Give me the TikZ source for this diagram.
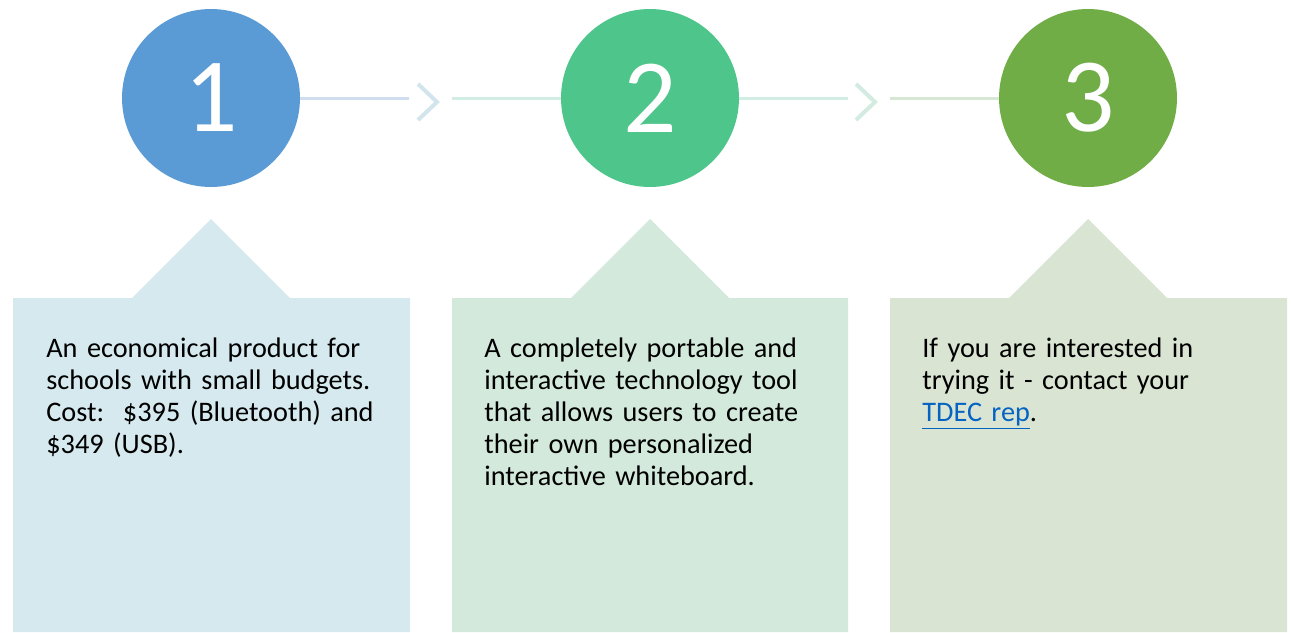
\documentclass[tikz,border=0pt]{standalone}
\usepackage{fontspec}
\setmainfont{Carlito}
\usetikzlibrary{positioning}

\definecolor{oneblue}{HTML}{5B9BD5}
\definecolor{twogreen}{HTML}{4EC58B}
\definecolor{threegreen}{HTML}{70AD47}
\definecolor{panelone}{HTML}{D5E9EE}
\definecolor{paneltwo}{HTML}{D3E9DC}
\definecolor{panelthree}{HTML}{DAE4D2}
\definecolor{linkone}{HTML}{D0DDEF}
\definecolor{chevone}{HTML}{D2E5EC}
\definecolor{linktwo}{HTML}{D1EDE4}
\definecolor{chevtwo}{HTML}{D3EBE0}
\definecolor{linkthree}{HTML}{D6E7D4}
\definecolor{urlblue}{HTML}{0563C1}

\begin{document}
\begin{tikzpicture}[x=0.02cm, y=-0.02cm,
    num/.style={circle, minimum size=3.56cm, inner sep=0pt, text=white, font=\fontsize{60}{62}\selectfont},
    desc/.style={anchor=north west, align=left, inner sep=0pt, text width=7.6cm, font=\fontsize{16.1}{18.1}\selectfont},
    link/.style={line width=0.06cm},
    chev/.style={line width=0.08cm}]
        \useasboundingbox (0,0) rectangle (1291,632);

        % Panels
        \fill[panelone] (13,632) -- (13,298) -- (132,298) -- (211,219) -- (290,298) -- (410,298) -- (410,632) -- cycle;
        \fill[paneltwo] (452,632) -- (452,298) -- (571,298) -- (650,219) -- (729,298) -- (848,298) -- (848,632) -- cycle;
        \fill[panelthree] (890,632) -- (890,298) -- (1009,298) -- (1088,219) -- (1167,298) -- (1287,298) -- (1287,632) -- cycle;

        % Nodes
        \node[num, fill=oneblue] (c1) at (211,98) {1};
        \node[num, fill=twogreen] (c2) at (650,98) {2};
        \node[num, fill=threegreen] (c3) at (1088,98) {3};

        \coordinate (a1) at (409,98);
        \coordinate (b1) at (452,98);
        \coordinate (a2) at (848,98);
        \coordinate (b2) at (890,98);

        \node[desc] (t1) at (46,338) {An economical product for\\schools with small budgets.\\Cost:\ \ \$395 (Bluetooth) and\\\$349 (USB).};
        \node[desc] (t2) at (484,338) {A completely portable and\\interactive technology tool\\that allows users to create\\their own personalized\\interactive whiteboard.};
        \node[desc] (t3) at (922,338) {If you are interested in\\trying it - contact your\\\textcolor{urlblue}{\underline{TDEC rep}}.};

        % Arrows
        \draw[link, linkone] (c1) -- (a1);
        \draw[chev, chevone] (418,84) -- (437,102) -- (418,120);
        \draw[link, linktwo] (b1) -- (c2);
        \draw[link, linktwo] (c2) -- (a2);
        \draw[chev, chevtwo] (856,84) -- (875,102) -- (856,120);
        \draw[link, linkthree] (b2) -- (c3);
    \end{tikzpicture}
\end{document}
